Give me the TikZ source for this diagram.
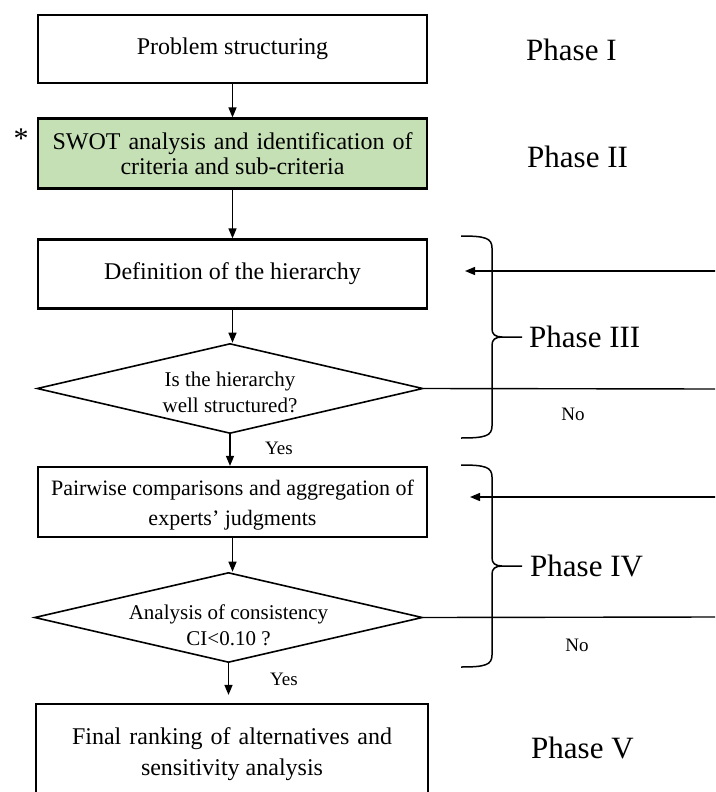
\documentclass[tikz,border=0pt]{standalone}
\usepackage{fontspec}
\setmainfont{Liberation Serif}
\usetikzlibrary{shapes.geometric,arrows.meta}
\definecolor{swotgreen}{RGB}{197,224,180}
\begin{document}
\begin{tikzpicture}[x=1pt,y=-1pt,
  box/.style={draw, line width=2.2pt, rectangle, minimum width=389pt, inner sep=0pt, align=center, font=\fontsize{24}{28}\selectfont},
  dia/.style={draw, line width=1.6pt, diamond, inner sep=0pt, minimum width=386pt, minimum height=90pt},
  dtxt/.style={font=\fontsize{21}{26}\selectfont, align=center, inner sep=0pt},
  btxt/.style={font=\fontsize{22}{30}\selectfont, align=center, inner sep=0pt},
  phase/.style={font=\fontsize{31}{36}\selectfont, anchor=west, inner sep=0pt},
  yn/.style={font=\fontsize{19}{22}\selectfont, inner sep=0pt},
  arr/.style={line width=1.4pt, -{Triangle[length=10pt,width=8pt]}},
  ln/.style={line width=1.4pt},
  brc/.style={line width=1.5pt}]
\clip (0,0) rectangle (715,792);
% boxes
\node[box, minimum height=68pt] (b1) at (232.5,49) {Problem structuring};
\node[box, fill=swotgreen, minimum height=70pt] (b2) at (232.5,153.5) {\makebox[360pt][s]{SWOT analysis and identification of}\\[-3pt]criteria and sub-criteria};
\node[box, minimum height=69pt] (b3) at (232.5,274) {Definition of the hierarchy};
\node[dia, label={[dtxt,yshift=-4pt]center:{Is the hierarchy\\well structured?}}] (d1) at (230,388.5) {};
\node[box, minimum height=70pt, label={[btxt,yshift=-3pt]center:{Pairwise comparisons and aggregation of\\experts' judgments}}] (b4) at (232.5,502) {};
\node[dia, minimum width=388pt, label={[dtxt,yshift=-8pt]center:{Analysis of consistency\\CI<0.10 ?}}] (d2) at (228.5,617.5) {};
\node[box, minimum width=392pt, minimum height=100pt, font=\fontsize{24}{31}\selectfont] (b5) at (232,754) {\makebox[320pt][s]{Final ranking of alternatives and}\\sensitivity analysis};
% asterisk
\node[font=\fontsize{30}{30}\selectfont, inner sep=0pt] (ast) at (21,139) {*};
% main flow
\draw[arr] (b1.south) -- (b2.north);
\draw[arr] (b2.south) -- (b3.north);
\draw[arr] (b3.south) -- (b3.south |- d1.north);
\draw[arr] (d1.south) -- (d1.south |- b4.north);
\draw[arr] (b4.south) -- (b4.south |- d2.north);
\draw[arr, shorten >=8pt] (d2.south) -- (d2.south |- b5.north);
% labels
\node[yn] (y1) at (279,448) {Yes};
\node[yn] (y2) at (284,679) {Yes};
\node[yn] (n1) at (573,414) {No};
\node[yn] (n2) at (577,645) {No};
% feedback lines
\coordinate (e1) at (716,271);
\coordinate (t1) at (465,271);
\draw[arr] (e1) -- (t1);
\coordinate (e2) at (716,389);
\draw[ln] (d1.east) -- (e2);
\coordinate (e3) at (716,497);
\coordinate (t3) at (470,497);
\draw[arr] (e3) -- (t3);
\coordinate (e4) at (716,617);
\draw[ln] (d2.east) -- (e4);
% braces
\draw[brc] (461,236) .. controls (485,236) and (492,238) .. (492,248) -- (492,329) .. controls (492,334) and (495,337) .. (502,337) -- (522,337);
\draw[brc] (502,337) .. controls (495,337) and (492,340) .. (492,345) -- (492,426) .. controls (492,436) and (485,438) .. (461,438);
\draw[brc] (461,465) .. controls (485,465) and (492,467) .. (492,477) -- (492,558) .. controls (492,563) and (495,566) .. (502,566) -- (522,566);
\draw[brc] (502,566) .. controls (495,566) and (492,569) .. (492,574) -- (492,655) .. controls (492,665) and (485,667) .. (461,667);
% phases
\node[phase] (p1) at (526,50) {Phase I};
\node[phase] (p2) at (527,157) {Phase II};
\node[phase] (p3) at (529,337) {Phase III};
\node[phase] (p4) at (530,566) {Phase IV};
\node[phase] (p5) at (531,748) {Phase V};
\end{tikzpicture}
\end{document}
